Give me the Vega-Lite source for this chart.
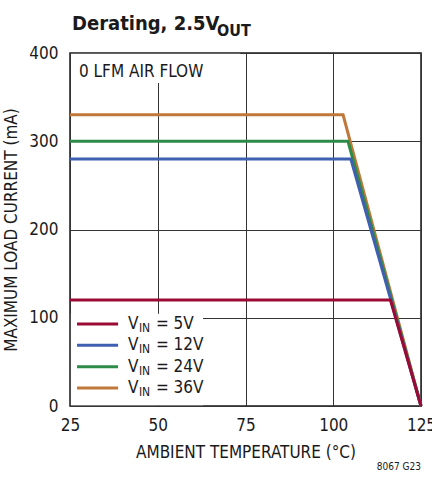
{
  "$schema": "https://vega.github.io/schema/vega-lite/v6.json",
  "width": 351,
  "height": 353,
  "autosize": "none",
  "padding": {"left": 70, "top": 53, "right": 11, "bottom": 71},
  "config": {
    "font": "DejaVu Sans Condensed",
    "view": {"stroke": "#1a1a1a", "strokeWidth": 1.5},
    "axis": {"grid": true, "gridColor": "#333333", "gridWidth": 1, "gridOpacity": 1, "domain": false, "ticks": false, "labelFontSize": 17, "labelColor": "#1a1a1a", "titleFontSize": 17, "titleFontWeight": "normal", "titleColor": "#1a1a1a", "labelFlush": false}
  },
  "datasets": {
    "curves": [
      {"series": "36V", "temp": 25, "current": 330},
      {"series": "36V", "temp": 102.8, "current": 330},
      {"series": "36V", "temp": 125, "current": 0},
      {"series": "24V", "temp": 25, "current": 300},
      {"series": "24V", "temp": 104.2, "current": 300},
      {"series": "24V", "temp": 125, "current": 0},
      {"series": "12V", "temp": 25, "current": 280},
      {"series": "12V", "temp": 105, "current": 280},
      {"series": "12V", "temp": 125, "current": 0},
      {"series": "5V", "temp": 25, "current": 120},
      {"series": "5V", "temp": 116.3, "current": 120},
      {"series": "5V", "temp": 125, "current": 0}
    ],
    "legendRows": [
      {"series": "5V", "label": "= 5V"},
      {"series": "12V", "label": "= 12V"},
      {"series": "24V", "label": "= 24V"},
      {"series": "36V", "label": "= 36V"}
    ]
  },
  "resolve": {"scale": {"y": "independent"}},
  "layer": [
    {
      "encoding": {
        "x": {"type": "quantitative", "scale": {"domain": [25, 125], "nice": false, "zero": false}},
        "y": {"type": "quantitative", "scale": {"domain": [0, 400], "nice": false, "zero": false}}
      },
      "layer": [
        {
          "data": {"values": [{}]},
          "mark": {"type": "rect", "fill": "white"},
          "encoding": {
            "x": {"datum": 25.3, "type": "quantitative"},
            "x2": {"datum": 73.5},
            "y": {"datum": 399.1, "type": "quantitative"},
            "y2": {"datum": 366}
          }
        },
        {
          "data": {"values": [{}]},
          "mark": {"type": "rect", "fill": "white"},
          "encoding": {
            "x": {"datum": 25.25, "type": "quantitative"},
            "x2": {"datum": 62.9},
            "y": {"datum": 0.9, "type": "quantitative"},
            "y2": {"datum": 104.5}
          }
        },
        {
          "data": {"name": "curves"},
          "mark": {"type": "line", "strokeWidth": 3},
          "encoding": {
            "x": {"field": "temp", "type": "quantitative", "axis": {"values": [25, 50, 75, 100, 125], "title": "AMBIENT TEMPERATURE (°C)", "labelPadding": 11, "titlePadding": 11}},
            "y": {"field": "current", "type": "quantitative", "axis": {"values": [0, 100, 200, 300, 400], "title": "MAXIMUM LOAD CURRENT (mA)", "labelPadding": 12, "titlePadding": 8}},
            "color": {"field": "series", "type": "nominal", "scale": {"domain": ["5V", "12V", "24V", "36V"], "range": ["#9b0a35", "#3f5fb0", "#2e8b47", "#c0783a"]}, "legend": null}
          }
        },
        {
          "data": {"values": [{}]},
          "mark": {"type": "text", "text": "0 LFM AIR FLOW", "align": "left", "baseline": "alphabetic", "fontSize": 17, "color": "#1a1a1a", "dx": 9, "dy": 24},
          "encoding": {
            "x": {"datum": 25, "type": "quantitative"},
            "y": {"datum": 400, "type": "quantitative"}
          }
        },
        {
          "data": {"values": [{}]},
          "mark": {"type": "text", "text": "Derating, 2.5V", "align": "left", "baseline": "alphabetic", "fontSize": 20, "fontWeight": "bold", "color": "#1a1a1a", "dx": 2, "dy": -23, "clip": false},
          "encoding": {
            "x": {"datum": 25, "type": "quantitative"},
            "y": {"datum": 400, "type": "quantitative"}
          }
        },
        {
          "data": {"values": [{}]},
          "mark": {"type": "text", "text": "OUT", "align": "left", "baseline": "alphabetic", "fontSize": 16, "fontWeight": "bold", "color": "#1a1a1a", "dx": 147, "dy": -17, "clip": false},
          "encoding": {
            "x": {"datum": 25, "type": "quantitative"},
            "y": {"datum": 400, "type": "quantitative"}
          }
        },
        {
          "data": {"values": [{}]},
          "mark": {"type": "text", "text": "8067 G23", "align": "right", "baseline": "alphabetic", "fontSize": 10, "color": "#1a1a1a", "dy": 64, "clip": false},
          "encoding": {
            "x": {"datum": 125, "type": "quantitative"},
            "y": {"datum": 0, "type": "quantitative"}
          }
        }
      ]
    },
    {
      "data": {"name": "legendRows"},
      "encoding": {
        "y": {"field": "series", "type": "nominal", "scale": {"type": "point", "domain": ["5V", "12V", "24V", "36V"], "range": [271, 335], "padding": 0}, "axis": null}
      },
      "layer": [
        {
          "mark": {"type": "rule", "strokeWidth": 3},
          "encoding": {
            "x": {"datum": 27.0, "type": "quantitative", "scale": {"domain": [25, 125], "nice": false, "zero": false}},
            "x2": {"datum": 38.7},
            "color": {"field": "series", "type": "nominal", "legend": null}
          }
        },
        {
          "mark": {"type": "text", "text": "V", "align": "left", "baseline": "middle", "fontSize": 17, "color": "#1a1a1a"},
          "encoding": {
            "x": {"datum": 41.5, "type": "quantitative"}
          }
        },
        {
          "mark": {"type": "text", "text": "IN", "align": "left", "baseline": "middle", "fontSize": 12, "color": "#1a1a1a", "dx": 11, "dy": 4},
          "encoding": {
            "x": {"datum": 41.5, "type": "quantitative"}
          }
        },
        {
          "mark": {"type": "text", "align": "left", "baseline": "middle", "fontSize": 17, "color": "#1a1a1a", "dx": 28},
          "encoding": {
            "x": {"datum": 41.5, "type": "quantitative"},
            "text": {"field": "label"}
          }
        }
      ]
    }
  ]
}
